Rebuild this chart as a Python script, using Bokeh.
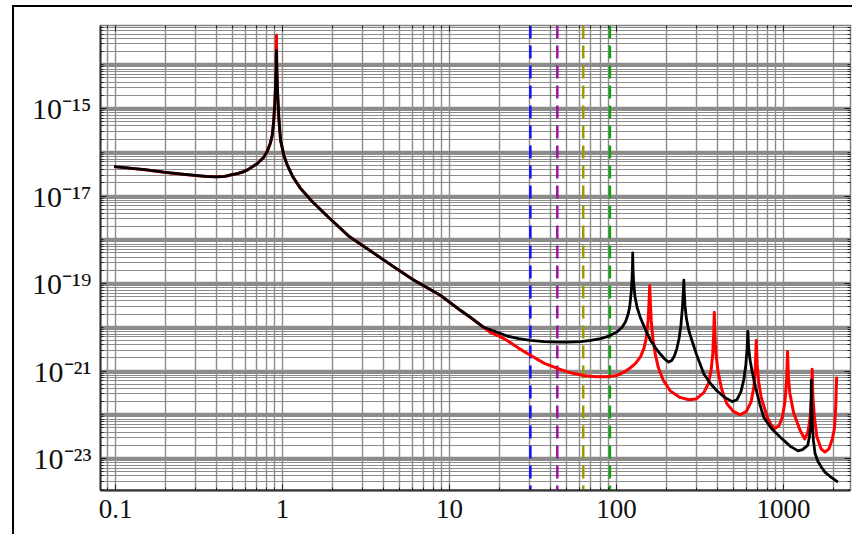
from bokeh.plotting import figure
from bokeh.models import Range1d, FixedTicker, LogAxis, Span
from bokeh.embed import file_html
from bokeh.resources import INLINE

# ---------------- data ----------------
# part shared by both curves (black is drawn over red)
low_f = [0.098, 0.15, 0.195, 0.25, 0.3, 0.35, 0.4, 0.45, 0.5, 0.535, 0.58, 0.62, 0.705, 0.77,
         0.81, 0.845, 0.867, 0.885, 0.897, 0.907, 0.915]
low_v = [4.7e-17, 4.0e-17, 3.5e-17, 3.16e-17, 2.95e-17, 2.8e-17, 2.75e-17, 2.8e-17, 3.1e-17,
         3.24e-17, 3.55e-17, 4.0e-17, 5.5e-17, 7.6e-17, 1.05e-16, 1.6e-16, 2.4e-16, 5.0e-16,
         1.1e-15, 2.8e-15, 7.9e-15]
mid_f = [0.925, 0.935, 0.95, 0.973, 1.02, 1.07, 1.15, 1.28, 1.5, 1.85, 2.5, 3.36, 4.5, 6.1,
         8.8, 11.6, 13.3, 16.0]
mid_v = [7.1e-15, 2.2e-15, 6.3e-16, 1.9e-16, 8.3e-17, 5.0e-17, 2.8e-17, 1.5e-17, 7.6e-18,
         3.5e-18, 1.2e-18, 5.6e-19, 2.6e-19, 1.2e-19, 5.4e-20, 2.45e-20, 1.7e-20, 1.0e-20]

black_peak_f = [0.92]
black_peak_v = [2.1e-14]
red_peak_f = [0.92]
red_peak_v = [4.7e-14]

black_high_f = [19, 22.1, 26, 30.5, 37, 44.2, 52, 61, 70, 80.3, 90, 100.5, 108, 113, 117, 120,
                122.5, 124, 124.7, 125, 125.4, 126.5, 129, 133, 138.6, 150, 160, 172, 183, 195,
                205, 214, 222, 230, 237, 243, 248, 251, 253, 254.5, 257, 262, 270, 280, 300,
                333, 365, 400, 445, 493, 525, 555, 578, 595, 605, 612, 618, 630, 648, 680, 720,
                761, 850, 953, 1100, 1221, 1300, 1395, 1430, 1455, 1462, 1467, 1474, 1488,
                1510, 1545, 1600, 1680, 1770, 1950, 2120]
black_high_v = [7.9e-21, 6.3e-21, 5.5e-21, 5.0e-21, 4.7e-21, 4.6e-21, 4.6e-21, 4.7e-21,
                5.0e-21, 5.5e-21, 6.3e-21, 7.8e-21, 1.0e-20, 1.32e-20, 1.9e-20, 3.0e-20,
                6.3e-20, 1.4e-19, 2.8e-19, 5.0e-19, 2.5e-19, 1.1e-19, 5.0e-20, 2.8e-20,
                1.7e-20, 8.3e-21, 5.0e-21, 3.3e-21, 2.45e-21, 1.86e-21, 1.6e-21, 1.74e-21,
                2.2e-21, 3.3e-21, 5.6e-21, 1.1e-20, 2.8e-20, 6.3e-20, 1.2e-19, 6.3e-20,
                3.2e-20, 1.6e-20, 8.9e-21, 5.6e-21, 2.5e-21, 8.7e-22, 5.2e-22, 3.5e-22,
                2.5e-22, 2.0e-22, 2.2e-22, 3.3e-22, 6.3e-22, 1.4e-21, 3.2e-21, 8.1e-21,
                3.5e-21, 1.8e-21, 1.0e-21, 4.2e-22, 1.8e-22, 8.7e-23, 4.8e-23, 3.1e-23,
                1.9e-23, 1.5e-23, 1.6e-23, 2.0e-23, 3.2e-23, 5.5e-23, 1.6e-22, 6.2e-22,
                1.8e-22, 6.3e-23, 2.6e-23, 1.3e-23, 8.9e-24, 6.5e-24, 4.9e-24, 3.6e-24,
                2.9e-24]

red_high_f = [17.6, 20, 22.1, 26, 30.5, 37, 44.2, 53, 63.5, 75, 87.8, 100, 110, 120, 130, 139,
              146, 151, 154.5, 156.5, 158, 159.5, 161.5, 165, 170, 178, 190, 210, 240, 271,
              300, 333, 355, 368, 377, 382, 385, 388, 394, 405, 425, 457, 500, 550, 600, 640,
              665, 678, 687, 695, 710, 735, 800, 850, 890, 940, 985, 1020, 1045, 1057, 1068,
              1090, 1150, 1260, 1340, 1400, 1445, 1472, 1485, 1498, 1530, 1585, 1680, 1770,
              1870, 1960, 2020, 2055, 2080]
red_high_v = [7.6e-21, 6.2e-21, 5.0e-21, 3.3e-21, 2.3e-21, 1.5e-21, 1.15e-21, 9.1e-22,
              7.9e-22, 7.4e-22, 7.4e-22, 7.9e-22, 9.3e-22, 1.15e-21, 1.5e-21, 2.1e-21, 3.3e-21,
              6.0e-21, 1.4e-20, 3.5e-20, 8.9e-20, 3.5e-20, 1.4e-20, 5.6e-21, 2.6e-21, 1.2e-21,
              6.3e-22, 3.5e-22, 2.5e-22, 2.2e-22, 2.3e-22, 3.2e-22, 5.2e-22, 1.0e-21, 2.5e-21,
              7.1e-21, 2.2e-20, 7.1e-21, 2.5e-21, 1.0e-21, 4.0e-22, 1.8e-22, 1.2e-22, 1.0e-22,
              1.2e-22, 2.0e-22, 4.5e-22, 1.26e-21, 5.0e-21, 1.4e-21, 5.6e-22, 2.5e-22, 8.7e-23,
              5.6e-23, 4.9e-23, 5.6e-23, 8.9e-23, 2.0e-22, 7.1e-22, 2.8e-21, 7.9e-22, 3.2e-22,
              1.1e-22, 4.3e-23, 2.8e-23, 4.0e-23, 8.9e-23, 2.8e-22, 1.1e-21, 2.8e-22, 8.9e-23,
              3.1e-23, 1.66e-23, 1.4e-23, 1.66e-23, 2.8e-23, 5.0e-23, 1.6e-22, 7.4e-22]

marker_freqs = [30.5, 44.2, 63.2, 91.3]
marker_colors = ["#1010ff", "#a010a0", "#9c9a00", "#10a010"]

x_tick_vals = [0.1, 1, 10, 100, 1000]
x_tick_labels = ["0.1", "1", "10", "100", "1000"]
y_tick_vals = [1e-23, 1e-21, 1e-19, 1e-17, 1e-15]
y_tick_labels = ["10\u207b\u00b2\u00b3", "10\u207b\u00b2\u00b9", "10\u207b\u00b9\u2079",
                 "10\u207b\u00b9\u2077", "10\u207b\u00b9\u2075"]

x_lo, x_hi = 0.0813, 2518.0
y_lo, y_hi = 1.86e-24, 7.9e-14

# ---------------- build ----------------
black_f = low_f + black_peak_f + mid_f + black_high_f
black_v = low_v + black_peak_v + mid_v + black_high_v
red_f = low_f + red_peak_f + mid_f + red_high_f
red_v = low_v + red_peak_v + mid_v + red_high_v

x_minor = [k * 10.0 ** e for e in range(-2, 4) for k in range(1, 10)]
y_decades = [10.0 ** e for e in range(-25, -12)]
y_minor = [k * 10.0 ** e for e in range(-25, -12) for k in range(1, 10)]

p = figure(x_axis_type="log", y_axis_type="log",
           x_range=Range1d(x_lo, x_hi), y_range=Range1d(y_lo, y_hi),
           frame_width=750, frame_height=465,
           min_border_left=86, min_border_right=2, min_border_top=18, min_border_bottom=44,
           output_backend="svg", toolbar_location=None)
p.styles = {"margin-left": "12px", "margin-top": "5px",
            "border-left": "2px solid black", "border-top": "2px solid black"}

p.outline_line_color = "#808080"
p.outline_line_width = 1.5
p.background_fill_color = "white"
p.border_fill_color = "white"

grid_col = "#8c8c8c"
p.xgrid.ticker = FixedTicker(ticks=x_minor)
p.xgrid.grid_line_color = grid_col
p.xgrid.grid_line_width = 1.4
p.ygrid.ticker = FixedTicker(ticks=y_decades, minor_ticks=y_minor)
p.ygrid.grid_line_color = grid_col
p.ygrid.grid_line_width = 3.5
p.ygrid.minor_grid_line_color = grid_col
p.ygrid.minor_grid_line_width = 1.2

font = "Liberation Serif"
for ax, vals, labs, minors, fs in ((p.xaxis[0], x_tick_vals, x_tick_labels, x_minor, "27px"),
                                   (p.yaxis[0], y_tick_vals, y_tick_labels, y_minor, "30px")):
    ax.ticker = FixedTicker(ticks=vals, minor_ticks=minors)
    ax.major_label_overrides = {v: l for v, l in zip(vals, labs)}
    ax.major_label_text_font = font
    ax.major_label_text_font_size = fs
    ax.major_label_text_color = "#111111"
    ax.axis_line_color = "#333333"
    ax.axis_line_width = 2
    ax.major_tick_in = 6
    ax.major_tick_out = 0
    ax.minor_tick_in = 3
    ax.minor_tick_out = 0
    ax.major_tick_line_color = "#222222"
    ax.minor_tick_line_color = "#222222"
    ax.major_label_standoff = 9

for loc, vals, minors in (("above", x_tick_vals, x_minor), ("right", y_tick_vals, y_minor)):
    extra = LogAxis(ticker=FixedTicker(ticks=vals, minor_ticks=minors),
                    major_label_overrides={v: "" for v in vals},
                    major_label_standoff=0,
                    major_tick_in=6, major_tick_out=0, minor_tick_in=3, minor_tick_out=0,
                    axis_line_color="#808080", major_tick_line_color="#222222",
                    minor_tick_line_color="#222222")
    p.add_layout(extra, loc)

for f0, c in zip(marker_freqs, marker_colors):
    sp = Span(location=f0, dimension="height", line_color=c, line_width=2.5,
              line_dash="13 7", level="underlay")
    p.add_layout(sp)

p.line(red_f, red_v, line_color="#ff0000", line_width=3, line_join="round")
p.line(black_f, black_v, line_color="#000000", line_width=2.8, line_join="round")

open("out.html", "w").write(file_html(p, INLINE))
